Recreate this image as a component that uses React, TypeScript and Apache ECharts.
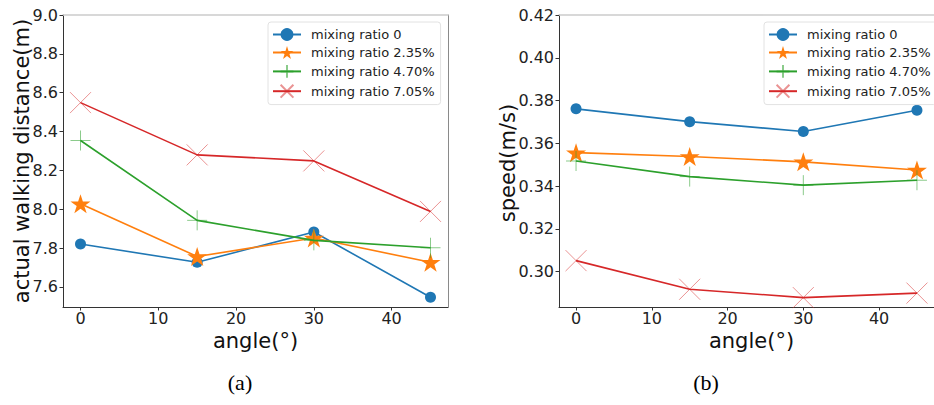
import React, { useEffect, useRef } from "react";
import * as echarts from "echarts";

// Angles tested (degrees)
const angles = [0, 15, 30, 45];

const seriesNames = [
  "mixing ratio 0",
  "mixing ratio 2.35%",
  "mixing ratio 4.70%",
  "mixing ratio 7.05%",
];

// (a) actual walking distance (m)
const distRatio0 = [7.821, 7.727, 7.883, 7.547];
const distRatio235 = [8.028, 7.757, 7.852, 7.727];
const distRatio470 = [8.354, 7.943, 7.84, 7.802];
const distRatio705 = [8.549, 8.28, 8.249, 7.989];

// (b) speed (m/s)
const speedRatio0 = [0.3761, 0.3701, 0.3655, 0.3754];
const speedRatio235 = [0.3556, 0.3538, 0.3513, 0.3475];
const speedRatio470 = [0.3517, 0.3444, 0.3404, 0.3427];
const speedRatio705 = [0.3051, 0.2917, 0.2878, 0.2899];

const xTicks = [0, 10, 20, 30, 40];
const distTicks = [7.6, 7.8, 8.0, 8.2, 8.4, 8.6, 8.8, 9.0];
const speedTicks = [0.3, 0.32, 0.34, 0.36, 0.38, 0.4, 0.42];

const COLORS = ["#1f77b4", "#ff7f0e", "#2ca02c", "#d62728"];
const FONT = "DejaVu Sans";

const STAR =
  "path://M0,-1 L0.2245,-0.309 L0.951,-0.309 L0.3633,0.118 L0.5878,0.809 L0,0.382 L-0.5878,0.809 L-0.3633,0.118 L-0.951,-0.309 L-0.2245,-0.309 Z";
const PLUS = "path://M0,-1 L0,1 M-1,0 L1,0";
const CROSS = "path://M-1,-1 L1,1 M-1,1 L1,-1";

function markerStyle(i: number) {
  const c = COLORS[i];
  if (i === 0) return { symbol: "circle", symbolSize: 11, itemStyle: { color: c } };
  if (i === 1)
    return { symbol: STAR, symbolSize: 20, symbolKeepAspect: true, itemStyle: { color: c } };
  if (i === 2)
    return {
      symbol: PLUS,
      symbolSize: 20,
      itemStyle: { color: "rgba(0,0,0,0)", borderColor: "rgba(44,160,44,0.55)", borderWidth: 1 },
    };
  return {
    symbol: CROSS,
    symbolSize: 21,
    itemStyle: { color: "rgba(0,0,0,0)", borderColor: "rgba(214,39,40,0.5)", borderWidth: 1 },
  };
}

function makeSeries(values: number[][], grid: number) {
  return values.map((vals, i) => ({
    type: "line",
    name: seriesNames[i],
    xAxisIndex: grid,
    yAxisIndex: grid,
    data: angles.map((a, k) => [a, vals[k]]),
    lineStyle: { color: COLORS[i], width: 1.6 },
    clip: false,
    z: 2 + i,
    ...markerStyle(i),
  }));
}

function mainXAxis(grid: number) {
  return {
    type: "value",
    gridIndex: grid,
    min: -2.25,
    max: 47.25,
    axisLine: { onZero: false, lineStyle: { color: "#333", width: 1 } },
    axisTick: { customValues: xTicks, length: 3.5, lineStyle: { color: "#333" } },
    axisLabel: {
      customValues: xTicks,
      margin: 3,
      fontSize: 16,
      color: "#222",
      fontFamily: FONT,
    },
    splitLine: { show: false },
  };
}

function mainYAxis(grid: number, min: number, max: number, ticks: number[], digits: number) {
  return {
    type: "value",
    gridIndex: grid,
    min,
    max,
    axisLine: { onZero: false, lineStyle: { color: "#333", width: 1 } },
    axisTick: { customValues: ticks, length: 3.5, lineStyle: { color: "#333" } },
    axisLabel: {
      customValues: ticks,
      margin: 5,
      fontSize: 16,
      color: "#222",
      fontFamily: FONT,
      formatter: (v: number) => v.toFixed(digits),
    },
    splitLine: { show: false },
  };
}

function frameX(grid: number) {
  return {
    type: "value",
    gridIndex: grid,
    position: "top",
    min: -2.25,
    max: 47.25,
    axisLine: { onZero: false, lineStyle: { color: "#cccccc", width: 1.5 } },
    axisTick: { show: false },
    axisLabel: { show: false },
    splitLine: { show: false },
  };
}

function frameY(grid: number, min: number, max: number) {
  return {
    type: "value",
    gridIndex: grid,
    position: "right",
    min,
    max,
    axisLine: { onZero: false, lineStyle: { color: "#8a8a8a", width: 1 } },
    axisTick: { show: false },
    axisLabel: { show: false },
    splitLine: { show: false },
  };
}

function legendAt(left: number) {
  return {
    orient: "vertical",
    left,
    top: 22,
    padding: [6, 6, 6, 4],
    itemWidth: 28,
    itemHeight: 16,
    itemGap: 5,
    borderColor: "#e2e2e2",
    borderWidth: 1,
    borderRadius: 3,
    backgroundColor: "rgba(255,255,255,0.85)",
    data: seriesNames,
    selectedMode: false,
    textStyle: { fontSize: 13, color: "#222", fontFamily: FONT, padding: [0, 0, 0, 5] },
  };
}

export default function App() {
  const ref = useRef<HTMLDivElement>(null);

  useEffect(() => {
    if (!ref.current) return;
    const chart = echarts.init(ref.current, null, { renderer: "svg" });

    const distMin = 7.497;
    const distMax = 9.0;
    const speedMin = 0.2834;
    const speedMax = 0.42;

    chart.setOption({
      animation: false,
      backgroundColor: "#ffffff",
      grid: [
        { left: 63, top: 15, width: 385, height: 292 },
        { left: 559, top: 15, width: 385, height: 292 },
      ],
      xAxis: [mainXAxis(0), mainXAxis(1), frameX(0), frameX(1)],
      yAxis: [
        mainYAxis(0, distMin, distMax, distTicks, 1),
        mainYAxis(1, speedMin, speedMax, speedTicks, 2),
        frameY(0, distMin, distMax),
        frameY(1, speedMin, speedMax),
      ],
      legend: [legendAt(268), legendAt(764)],
      series: [
        ...makeSeries([distRatio0, distRatio235, distRatio470, distRatio705], 0),
        ...makeSeries([speedRatio0, speedRatio235, speedRatio470, speedRatio705], 1),
      ],
      graphic: [
        {
          type: "text",
          x: 22,
          y: 161,
          rotation: Math.PI / 2,
          style: {
            text: "actual walking distance(m)",
            font: `21px "${FONT}"`,
            fill: "#111",
            textAlign: "center",
            textVerticalAlign: "middle",
          },
        },
        {
          type: "text",
          x: 508,
          y: 163,
          rotation: Math.PI / 2,
          style: {
            text: "speed(m/s)",
            font: `21px "${FONT}"`,
            fill: "#111",
            textAlign: "center",
            textVerticalAlign: "middle",
          },
        },
        {
          type: "text",
          x: 255.5,
          y: 341,
          style: {
            text: "angle(°)",
            font: `21px "${FONT}"`,
            fill: "#111",
            textAlign: "center",
            textVerticalAlign: "middle",
          },
        },
        {
          type: "text",
          x: 751.5,
          y: 341,
          style: {
            text: "angle(°)",
            font: `21px "${FONT}"`,
            fill: "#111",
            textAlign: "center",
            textVerticalAlign: "middle",
          },
        },
        {
          type: "text",
          x: 240,
          y: 382,
          style: {
            text: "(a)",
            font: `22px "Liberation Serif"`,
            fill: "#000",
            textAlign: "center",
            textVerticalAlign: "middle",
          },
        },
        {
          type: "text",
          x: 706,
          y: 382,
          style: {
            text: "(b)",
            font: `22px "Liberation Serif"`,
            fill: "#000",
            textAlign: "center",
            textVerticalAlign: "middle",
          },
        },
      ],
    });

    return () => chart.dispose();
  }, []);

  return (
    <div
      ref={ref}
      style={{ position: "fixed", left: 0, top: 0, width: 934, height: 405, background: "#fff" }}
    />
  );
}
